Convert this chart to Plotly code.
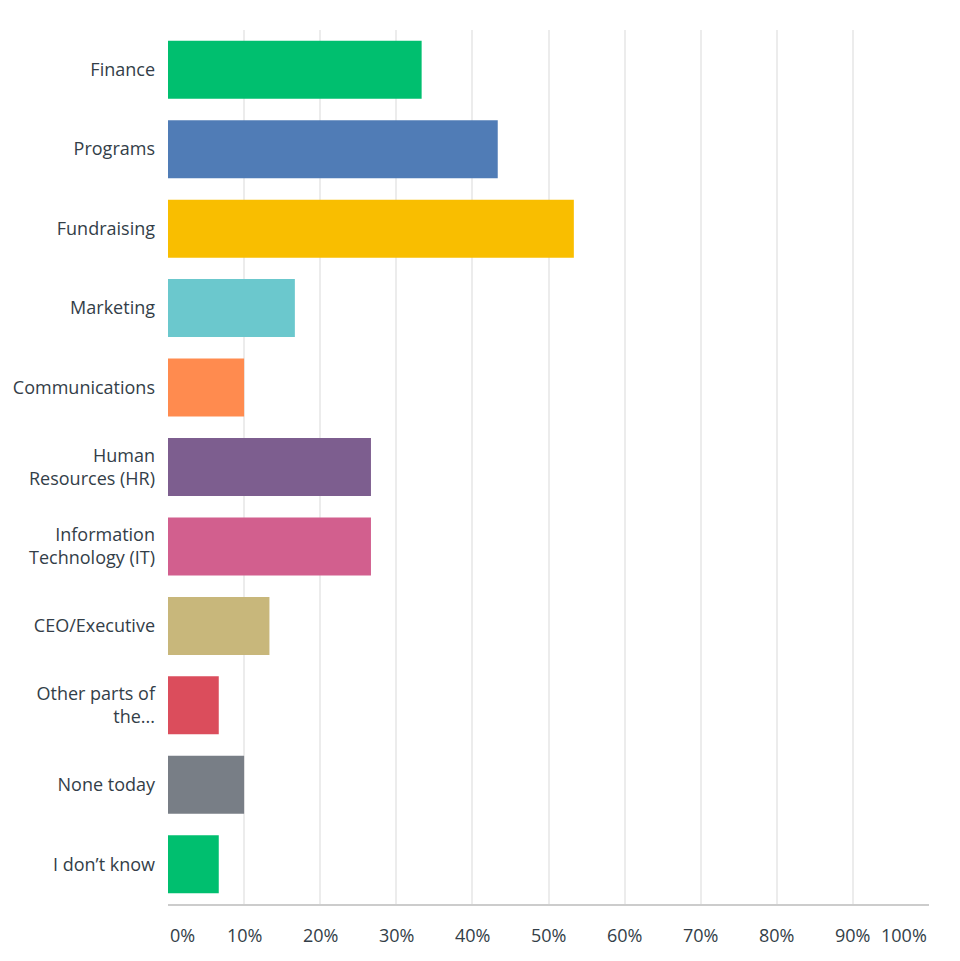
import plotly.graph_objects as go

categories = ["Finance", "Programs", "Fundraising", "Marketing", "Communications",
              "Human<br>Resources (HR)", "Information<br>Technology (IT)", "CEO/Executive",
              "Other parts of<br>the...", "None today", "I don’t know"]
values = [33.33, 43.33, 53.33, 16.67, 10.0, 26.67, 26.67, 13.33, 6.67, 10.0, 6.67]
colors = ["#00BF6F", "#507CB6", "#F9BE00", "#6BC8CD", "#FF8B4F", "#7D5E8F",
          "#D25F8E", "#C8B77B", "#DB4D5C", "#787E86", "#00BF6F"]
tick_vals = [0, 10, 20, 30, 40, 50, 60, 70, 80, 90, 100]
tick_text = ["0%", "10%", "20%", "30%", "40%", "50%", "60%", "70%", "80%", "90%", "100%"]

FONT = "Open Sans"
TXT = "#333e48"

fig = go.Figure(go.Bar(
    x=values, y=categories, orientation="h",
    marker=dict(color=colors, line=dict(width=0)),
    hoverinfo="skip",
))

annotations = []
for v, t in zip(tick_vals, tick_text):
    anchor = "center"
    if v == 0:
        anchor = "left"
    elif v == 100:
        anchor = "right"
    annotations.append(dict(x=v, y=0, xref="x", yref="paper", text=t, showarrow=False,
                            xanchor=anchor, yanchor="middle", yshift=-31,
                            font=dict(family=FONT, size=18, color=TXT)))

fig.update_layout(
    width=960, height=961,
    margin=dict(l=168, r=31, t=30, b=57),
    plot_bgcolor="white", paper_bgcolor="white",
    bargap=0.27,
    showlegend=False,
    annotations=annotations,
    xaxis=dict(range=[0, 100], tickvals=tick_vals, showticklabels=False,
               showgrid=True, gridcolor="#ececec", gridwidth=1.5,
               zeroline=False, showline=True, linecolor="#cccccc", linewidth=2,
               fixedrange=True),
    yaxis=dict(categoryorder="array", categoryarray=categories, autorange="reversed",
               showgrid=False, zeroline=False, showline=False, ticks="",
               ticklabelstandoff=12,
               tickfont=dict(family=FONT, size=18, color=TXT), fixedrange=True),
)

fig.write_html("out.html")
